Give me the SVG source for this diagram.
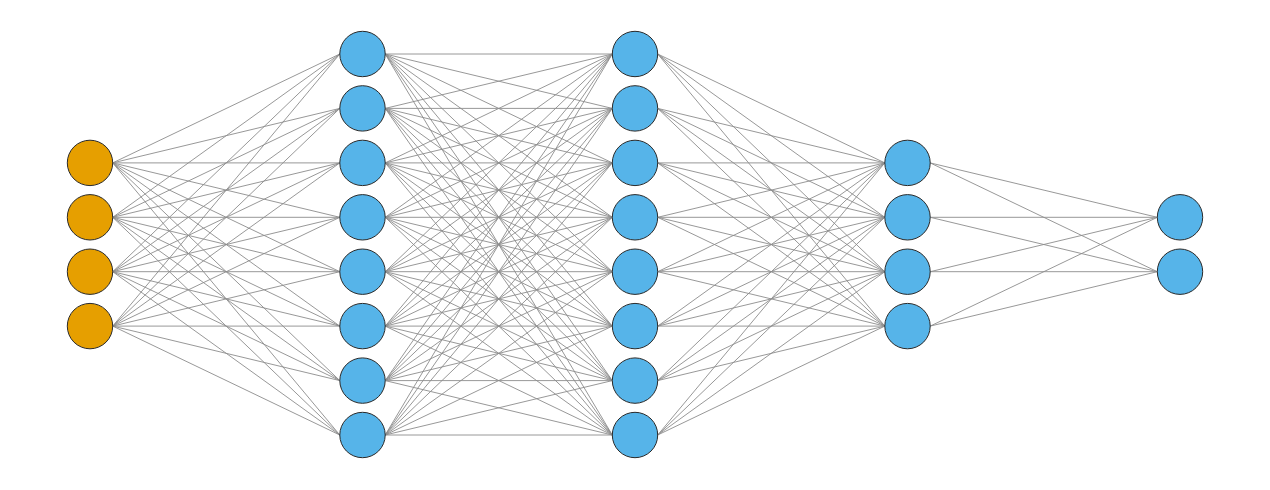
<svg xmlns="http://www.w3.org/2000/svg" width="1270" height="490" viewBox="0 0 1270 490">
<style>
.e{fill:none;stroke:#8c8c8c;stroke-width:0.9}
.in{fill:#E69F00;stroke:#2a2a2a;stroke-width:1}
.hd{fill:#56B4E9;stroke:#2a2a2a;stroke-width:1}
</style>
<rect width="1270" height="490" fill="#ffffff"/>
<g id="connectors" class="e">
<path d="M112.7,162.9L339.8,54M112.7,162.9L339.8,108.4M112.7,162.9L339.8,162.9M112.7,162.9L339.8,217.3M112.7,162.9L339.8,271.7M112.7,162.9L339.8,326.1M112.7,162.9L339.8,380.6M112.7,162.9L339.8,435"/>
<path d="M112.7,217.3L339.8,54M112.7,217.3L339.8,108.4M112.7,217.3L339.8,162.9M112.7,217.3L339.8,217.3M112.7,217.3L339.8,271.7M112.7,217.3L339.8,326.1M112.7,217.3L339.8,380.6M112.7,217.3L339.8,435"/>
<path d="M112.7,271.7L339.8,54M112.7,271.7L339.8,108.4M112.7,271.7L339.8,162.9M112.7,271.7L339.8,217.3M112.7,271.7L339.8,271.7M112.7,271.7L339.8,326.1M112.7,271.7L339.8,380.6M112.7,271.7L339.8,435"/>
<path d="M112.7,326.1L339.8,54M112.7,326.1L339.8,108.4M112.7,326.1L339.8,162.9M112.7,326.1L339.8,217.3M112.7,326.1L339.8,271.7M112.7,326.1L339.8,326.1M112.7,326.1L339.8,380.6M112.7,326.1L339.8,435"/>
<path d="M385.2,54L612.3,54M385.2,54L612.3,108.4M385.2,54L612.3,162.9M385.2,54L612.3,217.3M385.2,54L612.3,271.7M385.2,54L612.3,326.1M385.2,54L612.3,380.6M385.2,54L612.3,435"/>
<path d="M385.2,108.4L612.3,54M385.2,108.4L612.3,108.4M385.2,108.4L612.3,162.9M385.2,108.4L612.3,217.3M385.2,108.4L612.3,271.7M385.2,108.4L612.3,326.1M385.2,108.4L612.3,380.6M385.2,108.4L612.3,435"/>
<path d="M385.2,162.9L612.3,54M385.2,162.9L612.3,108.4M385.2,162.9L612.3,162.9M385.2,162.9L612.3,217.3M385.2,162.9L612.3,271.7M385.2,162.9L612.3,326.1M385.2,162.9L612.3,380.6M385.2,162.9L612.3,435"/>
<path d="M385.2,217.3L612.3,54M385.2,217.3L612.3,108.4M385.2,217.3L612.3,162.9M385.2,217.3L612.3,217.3M385.2,217.3L612.3,271.7M385.2,217.3L612.3,326.1M385.2,217.3L612.3,380.6M385.2,217.3L612.3,435"/>
<path d="M385.2,271.7L612.3,54M385.2,271.7L612.3,108.4M385.2,271.7L612.3,162.9M385.2,271.7L612.3,217.3M385.2,271.7L612.3,271.7M385.2,271.7L612.3,326.1M385.2,271.7L612.3,380.6M385.2,271.7L612.3,435"/>
<path d="M385.2,326.1L612.3,54M385.2,326.1L612.3,108.4M385.2,326.1L612.3,162.9M385.2,326.1L612.3,217.3M385.2,326.1L612.3,271.7M385.2,326.1L612.3,326.1M385.2,326.1L612.3,380.6M385.2,326.1L612.3,435"/>
<path d="M385.2,380.6L612.3,54M385.2,380.6L612.3,108.4M385.2,380.6L612.3,162.9M385.2,380.6L612.3,217.3M385.2,380.6L612.3,271.7M385.2,380.6L612.3,326.1M385.2,380.6L612.3,380.6M385.2,380.6L612.3,435"/>
<path d="M385.2,435L612.3,54M385.2,435L612.3,108.4M385.2,435L612.3,162.9M385.2,435L612.3,217.3M385.2,435L612.3,271.7M385.2,435L612.3,326.1M385.2,435L612.3,380.6M385.2,435L612.3,435"/>
<path d="M657.7,54L884.8,162.9M657.7,54L884.8,217.3M657.7,54L884.8,271.7M657.7,54L884.8,326.1"/>
<path d="M657.7,108.4L884.8,162.9M657.7,108.4L884.8,217.3M657.7,108.4L884.8,271.7M657.7,108.4L884.8,326.1"/>
<path d="M657.7,162.9L884.8,162.9M657.7,162.9L884.8,217.3M657.7,162.9L884.8,271.7M657.7,162.9L884.8,326.1"/>
<path d="M657.7,217.3L884.8,162.9M657.7,217.3L884.8,217.3M657.7,217.3L884.8,271.7M657.7,217.3L884.8,326.1"/>
<path d="M657.7,271.7L884.8,162.9M657.7,271.7L884.8,217.3M657.7,271.7L884.8,271.7M657.7,271.7L884.8,326.1"/>
<path d="M657.7,326.1L884.8,162.9M657.7,326.1L884.8,217.3M657.7,326.1L884.8,271.7M657.7,326.1L884.8,326.1"/>
<path d="M657.7,380.6L884.8,162.9M657.7,380.6L884.8,217.3M657.7,380.6L884.8,271.7M657.7,380.6L884.8,326.1"/>
<path d="M657.7,435L884.8,162.9M657.7,435L884.8,217.3M657.7,435L884.8,271.7M657.7,435L884.8,326.1"/>
<path d="M930.2,162.9L1157.3,217.3M930.2,162.9L1157.3,271.7"/>
<path d="M930.2,217.3L1157.3,217.3M930.2,217.3L1157.3,271.7"/>
<path d="M930.2,271.7L1157.3,217.3M930.2,271.7L1157.3,271.7"/>
<path d="M930.2,326.1L1157.3,217.3M930.2,326.1L1157.3,271.7"/>
</g>
<g id="input-1"><circle class="in" cx="90" cy="162.9" r="22.7"/></g>
<g id="input-2"><circle class="in" cx="90" cy="217.3" r="22.7"/></g>
<g id="input-3"><circle class="in" cx="90" cy="271.7" r="22.7"/></g>
<g id="input-4"><circle class="in" cx="90" cy="326.1" r="22.7"/></g>
<g id="h1-1"><circle class="hd" cx="362.5" cy="54" r="22.7"/></g>
<g id="h1-2"><circle class="hd" cx="362.5" cy="108.4" r="22.7"/></g>
<g id="h1-3"><circle class="hd" cx="362.5" cy="162.9" r="22.7"/></g>
<g id="h1-4"><circle class="hd" cx="362.5" cy="217.3" r="22.7"/></g>
<g id="h1-5"><circle class="hd" cx="362.5" cy="271.7" r="22.7"/></g>
<g id="h1-6"><circle class="hd" cx="362.5" cy="326.1" r="22.7"/></g>
<g id="h1-7"><circle class="hd" cx="362.5" cy="380.6" r="22.7"/></g>
<g id="h1-8"><circle class="hd" cx="362.5" cy="435" r="22.7"/></g>
<g id="h2-1"><circle class="hd" cx="635" cy="54" r="22.7"/></g>
<g id="h2-2"><circle class="hd" cx="635" cy="108.4" r="22.7"/></g>
<g id="h2-3"><circle class="hd" cx="635" cy="162.9" r="22.7"/></g>
<g id="h2-4"><circle class="hd" cx="635" cy="217.3" r="22.7"/></g>
<g id="h2-5"><circle class="hd" cx="635" cy="271.7" r="22.7"/></g>
<g id="h2-6"><circle class="hd" cx="635" cy="326.1" r="22.7"/></g>
<g id="h2-7"><circle class="hd" cx="635" cy="380.6" r="22.7"/></g>
<g id="h2-8"><circle class="hd" cx="635" cy="435" r="22.7"/></g>
<g id="h3-1"><circle class="hd" cx="907.5" cy="162.9" r="22.7"/></g>
<g id="h3-2"><circle class="hd" cx="907.5" cy="217.3" r="22.7"/></g>
<g id="h3-3"><circle class="hd" cx="907.5" cy="271.7" r="22.7"/></g>
<g id="h3-4"><circle class="hd" cx="907.5" cy="326.1" r="22.7"/></g>
<g id="out-1"><circle class="hd" cx="1180" cy="217.3" r="22.7"/></g>
<g id="out-2"><circle class="hd" cx="1180" cy="271.7" r="22.7"/></g>
</svg>
